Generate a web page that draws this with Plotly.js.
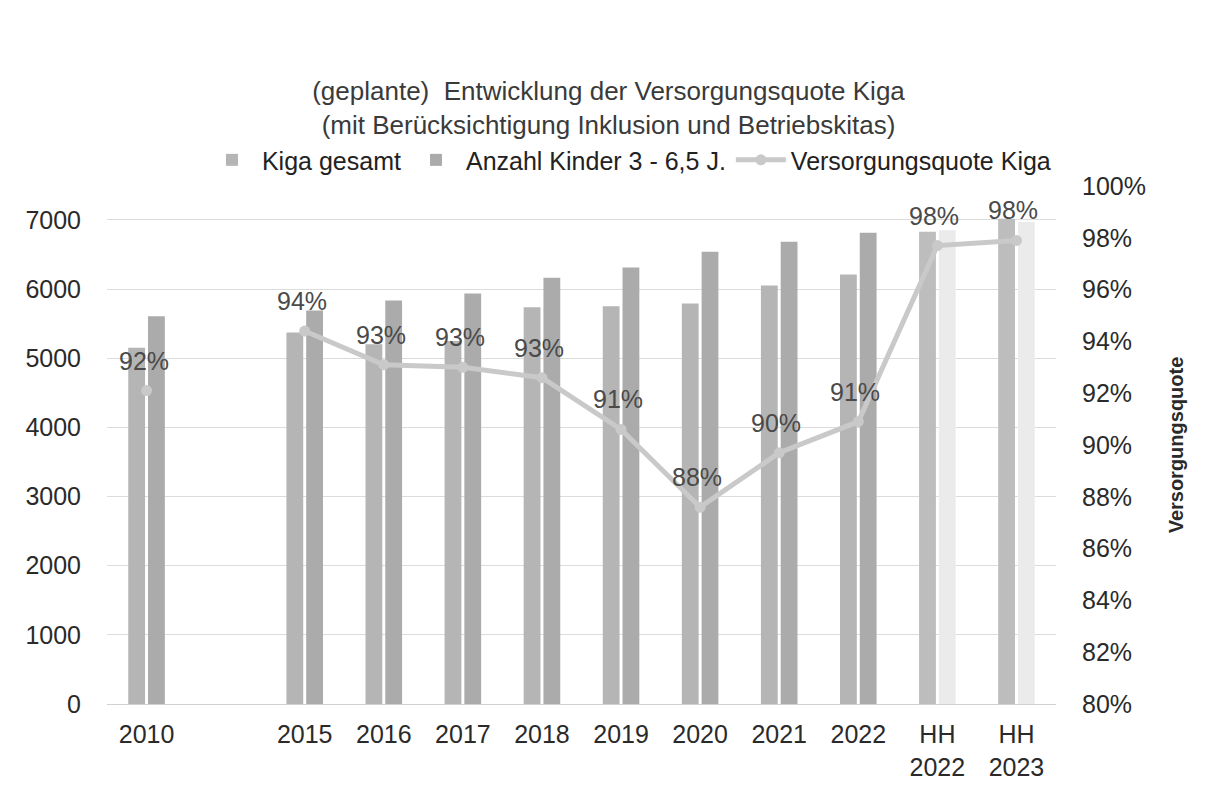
<!DOCTYPE html>
<html>
<head>
<meta charset="utf-8">
<script src="https://cdn.plot.ly/plotly-3.0.1.min.js"></script>
<style>
  html, body { margin: 0; padding: 0; background: #ffffff; }
  #chart { width: 1217px; height: 794px; }
</style>
</head>
<body>
<div id="chart"></div>
<script>
// Category labels (one empty slot between 2010 and 2015, as in the original)
const categories = ["2010", "", "2015", "2016", "2017", "2018", "2019", "2020", "2021", "2022", "HH<br>2022", "HH<br>2023"];

// Kiga gesamt
const kigaGesamt = [5150, null, 5370, 5200, 5250, 5735, 5750, 5790, 6050, 6210, 6830, 7015];

// Anzahl Kinder 3 - 6,5 J.
const anzahlKinder = [5605, null, 5690, 5835, 5935, 6165, 6310, 6540, 6685, 6815, 6850, 6970];

// Versorgungsquote Kiga
const versorgungsquote = [0.921, null, 0.944, 0.931, 0.930, 0.926, 0.906, 0.876, 0.897, 0.909, 0.977, 0.979];

const slots = categories.map((c, i) => i);
const kigaColors = categories.map(c => c.startsWith("HH") ? "#bdbdbd" : "#b5b5b5");
const anzahlColors = categories.map(c => c.startsWith("HH") ? "#ebebeb" : "#ababab");

const FONT = "Liberation Sans, Arial, sans-serif";

const traces = [
  {
    type: "bar", name: "Kiga gesamt", x: slots, y: kigaGesamt,
    marker: { color: kigaColors }, hoverinfo: "skip"
  },
  {
    type: "bar", name: "Anzahl Kinder 3 - 6,5 J.", x: slots, y: anzahlKinder,
    marker: { color: anzahlColors }, hoverinfo: "skip"
  },
  {
    type: "scatter", mode: "lines+markers", name: "Versorgungsquote Kiga",
    x: slots, y: versorgungsquote, yaxis: "y2",
    line: { color: "#c9c9c9", width: 5 },
    marker: { color: "#c9c9c9", size: 11 },
    connectgaps: false, hoverinfo: "skip"
  }
];

const annotations = [];
slots.forEach((s, i) => {
  if (versorgungsquote[i] == null) return;
  annotations.push({
    x: s, y: versorgungsquote[i], xref: "x", yref: "y2",
    text: Math.round(versorgungsquote[i] * 100) + "%",
    showarrow: false, yshift: 30, xshift: -3,
    font: { family: FONT, size: 25, color: "#4a4a4a" }
  });
});

const layout = {
  width: 1217, height: 794,
  paper_bgcolor: "#ffffff", plot_bgcolor: "#ffffff",
  margin: { l: 107, r: 161, t: 186, b: 90 },
  font: { family: FONT, color: "#333333" },
  title: {
    text: "(geplante)  Entwicklung der Versorgungsquote Kiga<br>(mit Berücksichtigung Inklusion und Betriebskitas)",
    font: { family: FONT, size: 26, color: "#3a3a3a" },
    x: 0.5, xanchor: "center", yref: "container", y: 0.874, yanchor: "middle"
  },
  showlegend: true,
  legend: {
    orientation: "h", x: 0.55, xanchor: "center", y: 1.05, yanchor: "middle",
    font: { family: FONT, size: 25, color: "#222222" },
    traceorder: "normal", itemwidth: 50
  },
  barmode: "group", bargap: 0.5, bargroupgap: 0.15,
  xaxis: {
    range: [-0.5, categories.length - 0.5],
    tickmode: "array", tickvals: slots, ticktext: categories,
    showgrid: false, showline: false, zeroline: false,
    ticks: "outside", ticklen: 8, tickcolor: "rgba(0,0,0,0)",
    tickfont: { family: FONT, size: 25, color: "#2a2a2a" }
  },
  yaxis: {
    range: [0, 7490], dtick: 1000, tick0: 0,
    showgrid: true, gridcolor: "#dcdcdc", gridwidth: 1,
    zeroline: true, zerolinecolor: "#d0d0d0", zerolinewidth: 1,
    showline: false,
    ticks: "outside", ticklen: 20, tickcolor: "rgba(0,0,0,0)",
    tickfont: { family: FONT, size: 25, color: "#2a2a2a" }
  },
  yaxis2: {
    overlaying: "y", side: "right",
    range: [0.8, 1.0], dtick: 0.02, tick0: 0.8, tickformat: ".0%",
    showgrid: false, zeroline: false, showline: false,
    ticks: "outside", ticklen: 20, tickcolor: "rgba(0,0,0,0)",
    tickfont: { family: FONT, size: 25, color: "#2a2a2a" },
    title: { text: "<b>Versorgungsquote</b>", font: { family: FONT, size: 20, color: "#2a2a2a" }, standoff: 24 }
  },
  annotations: annotations
};

Plotly.newPlot("chart", traces, layout, { displayModeBar: false, staticPlot: true });
</script>
</body>
</html>
